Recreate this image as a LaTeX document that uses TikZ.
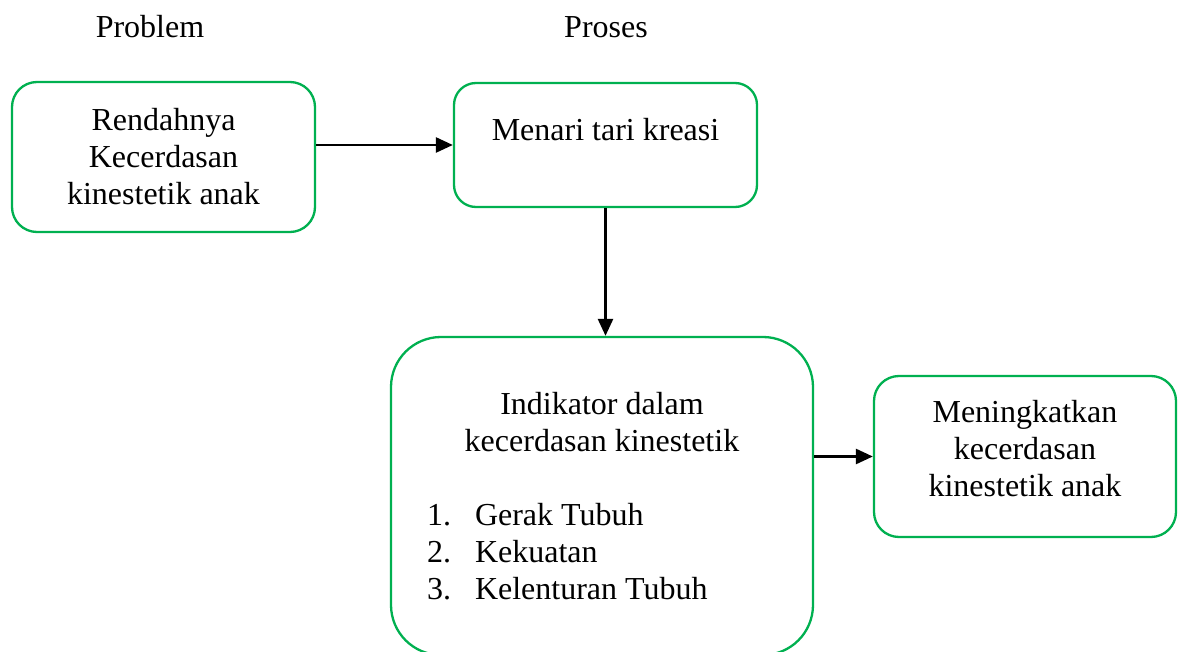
\documentclass[tikz,border=0pt]{standalone}
\usepackage{fontspec}
\setmainfont{Liberation Serif}
\usetikzlibrary{positioning,calc}
\usetikzlibrary{arrows.meta}
\definecolor{BoxGreen}{RGB}{0,176,80}
\tikzset{
	box/.style={draw=BoxGreen,line width=2.3pt,fill=white,align=center,
		font=\fontsize{32}{37}\selectfont,inner sep=4pt},
	title/.style={font=\fontsize{32}{37}\selectfont,inner sep=0pt},
	flow/.style={draw=black,line width=2.6pt,-{Triangle[length=17pt,width=15pt]}},
}
\newcommand{\listitem}[2]{\makebox[350pt][l]{\makebox[48pt][l]{#1}#2}}

\begin{document}
\begin{tikzpicture}[x=1pt,y=-1pt]
	\useasboundingbox (0,0) rectangle (1179,652);
	% titles
	\node[title] (problem) at (150,27) {Problem};
	\node[title] (proses) at (606,27) {Proses};
	% boxes
	\node[box,minimum width=303pt,minimum height=150pt,rounded corners=25pt] (rendah) at (163.5,157)
		{Rendahnya\\Kecerdasan\\kinestetik anak};
	\node[box,minimum width=303pt,minimum height=124pt,rounded corners=22pt,text depth=32pt] (menari) at (605.5,145)
		{Menari tari kreasi};
	\node[box,minimum width=422pt,minimum height=318pt,rounded corners=50pt] (indikator) at (602,496)
		{Indikator dalam\\kecerdasan kinestetik\\[37pt]
		\listitem{1.}{Gerak Tubuh}\\
		\listitem{2.}{Kekuatan}\\
		\listitem{3.}{Kelenturan Tubuh}};
	\node[box,minimum width=302pt,minimum height=161pt,rounded corners=25pt,text depth=16pt] (naik) at (1025,456.5)
		{Meningkatkan\\kecerdasan\\kinestetik anak};
	% arrows
	\draw[flow] (rendah.east |- menari.west) -- (menari.west);
	\draw[flow] (menari.south) -- (menari.south |- indikator.north);
	\draw[flow] (indikator.east |- naik.west) -- (naik.west);
\end{tikzpicture}
\end{document}
